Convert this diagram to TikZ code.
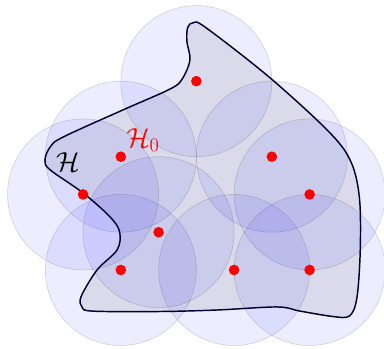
\documentclass[tikz,border=0pt]{standalone}
\begin{document}
\begin{tikzpicture}
      \useasboundingbox (-2.2,-2.09) rectangle (7.97,7.15);

      \foreach \p in {(3,5),(1,3),(5,3),(0,2),(6,2),(2,1),(1,0),(4,0),(6,0)} {
          \draw[draw=black!70, draw opacity=0.25, fill=blue, fill opacity=0.07] \p circle (2);
        }

      \draw[line width=1.1pt, color=black!80!blue, fill=black, fill opacity=0.08]
        plot[smooth cycle, tension=0.55] coordinates {
          (2.92,6.55) (3.25,6.42) (4.95,5.09) (6.54,3.63) (7.10,2.85) (7.32,1.9)
          (7.34,0.5) (7.25,-0.75) (7.05,-1.22) (6.6,-1.23) (5.75,-1.09) (5.14,-0.98)
          (3.55,-1.06) (2.04,-1.10) (0.26,-1.09) (-0.03,-0.98) (-0.05,-0.70) (0.37,0)
          (0.90,0.53) (0.97,1.0) (0.72,1.40) (0,2.04) (-0.87,2.65) (-1.01,2.91)
          (-0.87,3.26) (-0.53,3.52) (1.06,4.24) (2.30,4.79) (2.62,5.05) (2.83,5.56)
          (2.75,6.05) (2.77,6.42)};

      \foreach \p in {(3,5),(1,3),(5,3),(0,2),(6,2),(2,1),(1,0),(4,0),(6,0)} {
          \fill[red] \p circle (4pt);
        }

      \node[font=\fontsize{22}{26}\selectfont] (hset) at (-0.4,2.86) {$\mathcal{H}$};
      \node[font=\fontsize{22}{26}\selectfont, red] (hzero) at (1.59,3.44) {$\mathcal{H}_0$};
    \end{tikzpicture}
\end{document}
